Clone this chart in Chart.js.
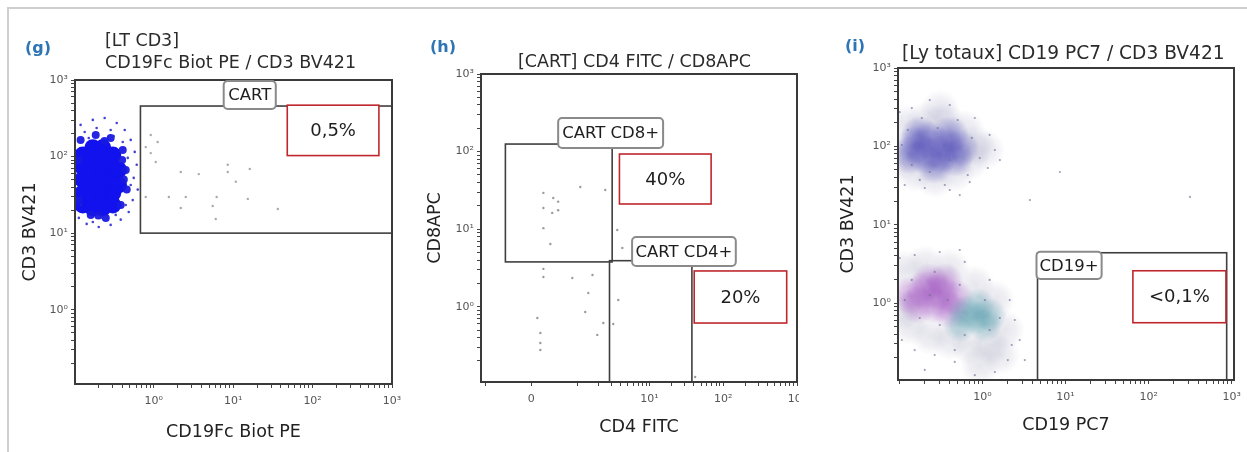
<!DOCTYPE html>
<html><head><meta charset="utf-8">
<script src="https://cdn.jsdelivr.net/npm/chart.js@4.4.1/dist/chart.umd.min.js"></script>
<style>
html,body{margin:0;padding:0;background:#fff;overflow:hidden}
#wrap{width:1247px;height:452px;position:relative;overflow:hidden;font-family:"DejaVu Sans",sans-serif}
.outer{position:absolute;left:7px;top:7px;width:1300px;height:500px;border-left:2px solid #cfcfcf;border-top:2px solid #cfcfcf}
canvas{position:absolute;top:0}
.t{position:absolute;white-space:nowrap;color:#2b2b2b;font-size:17.5px;line-height:20px}
.lt{position:absolute;white-space:nowrap;color:#2e75b6;font-weight:bold;font-size:16px;line-height:20px}
</style></head>
<body>
<div id="wrap">
<div class="outer"></div>
<canvas id="cg" width="415" height="452" style="left:0"></canvas>
<canvas id="ch" width="384" height="452" style="left:415px"></canvas>
<canvas id="ci" width="417" height="452" style="left:830px"></canvas>
<div class="lt" style="left:25px;top:38px">(g)</div>
<div class="t" style="left:105px;top:30px">[LT CD3]</div>
<div class="t" style="left:105px;top:52px">CD19Fc Biot PE / CD3 BV421</div>
<div class="lt" style="left:430px;top:37px">(h)</div>
<div class="t" style="left:518px;top:51px">[CART] CD4 FITC / CD8APC</div>
<div class="lt" style="left:845px;top:36px">(i)</div>
<div class="t" style="left:902px;top:43px;font-size:18.6px">[Ly totaux] CD19 PC7 / CD3 BV421</div>
</div>
<script>
// ---------- tick labels ----------
const decadeTicks = [1, 10, 100, 1000];
const decadeLabels = ['10\u2070', '10\u00b9', '10\u00b2', '10\u00b3'];
const hXMajorTicks = [0, 10, 100, 1000];
const hXMajorLabels = ['0', '10\u00b9', '10\u00b2', '10\u00b3'];

// ---------- axis ranges ----------
const gXRange = [0.102, 1000];
const gYRange = [0.107, 1000];
const hXRange = [-1.15, 1000];
const hYRange = [0.107, 1000];
const iXRange = [0.0962, 1067];
const iYRange = [0.104, 1000];

// ---------- panel (g) events: [CD19Fc Biot PE, CD3 BV421] ----------
const gDenseCore = [
  [0.128,105],[0.128,73.1],[0.128,50],[0.128,33.5],[0.128,23.3],
  [0.171,130],[0.171,90],[0.171,63],[0.171,43.9],[0.171,30.6],[0.171,21.3],
  [0.228,130],[0.228,90],[0.228,63],[0.228,43.9],[0.228,30.6],[0.228,21.3],
  [0.305,105],[0.305,73.1],[0.305,50],[0.305,33.5],[0.305,23.3],
  [0.36,67],[0.36,42.6]];
const gMidEvents = [[0.12,165],[0.186,191],[0.287,175],[0.407,122],[0.444,67],[0.457,37],[0.384,23.3],
  [0.249,15.8],[0.161,17.3],[0.114,27],[0.114,90],[0.24,160],[0.40,90],[0.42,50],[0.20,17]];
const gHaloEvents = [[0.12,259],[0.171,301],[0.241,319],[0.342,275],[0.431,222],[0.513,165],[0.576,115],
  [0.611,78],[0.56,52.6],[0.629,37],[0.544,27],[0.484,18.9],[0.384,15],[0.287,12.8],[0.203,12.0],[0.143,13.2],
  [0.114,15.8],[0.135,209],[0.191,236],[0.287,222],[0.407,155],[0.471,96],[0.513,42.6],[0.444,23.3],
  [0.332,17.3],[0.215,15.8],[0.152,175],[0.313,186],[0.12,23.3],[0.171,14.0]];
const gCartEvents = [[0.917,191],[1.12,155],[1.06,85],[2.19,63],[3.69,59],[8.55,78],[8.55,63],[16.2,69],
  [10.8,47],[1.55,29.7],[2.53,29.7],[2.19,21.3],[6.2,29.7],[5.53,22.6],[15.3,28],[6.04,15.3],[36.5,20.7],
  [0.917,111],[0.793,29.7],[0.793,133]];

// ---------- panel (h) events: [CD4 FITC, CD8APC] ----------
const hEvents = [[0.193,29.3],[0.37,25.2],[0.35,16.2],[0.193,18.7],[0.47,22.6],[0.47,17.5],[1.10,34.9],
  [2.49,32],[0.193,10.3],[0.315,6.44],[3.64,9.75],[4.27,5.72],[0.193,3.07],[0.193,2.42],[0.83,2.35],
  [1.65,2.56],[1.44,1.50],[3.76,1.22],[0.095,0.716],[1.30,0.855],[0.143,0.459],[0.143,0.341],[0.143,0.277],
  [2.34,0.617],[3.21,0.599],[1.93,0.433],[41.6,0.124]];

// ---------- panel (i) events: [CD19 PC7, CD3 BV421] ----------
const iT3Core = [[0.153,104],[0.232,120],[0.352,104],[0.533,95],[0.202,77.5],[0.306,77.5],[0.464,71],
  [0.176,140],[0.404,140],[0.266,57.8],[0.133,77.5]];
const iT3Halo = [[0.116,187],[0.202,204],[0.352,204],[0.612,162],[0.808,104],[0.703,66.9],[0.464,47],
  [0.266,39.4],[0.153,47],[0.11,66.9],[1.07,89.8],[0.306,291]];
const iT3Sparse = [[0.101,274],[0.141,308],[0.404,337],[0.808,230],[1.22,140],[1.41,89.8],[1.16,52.9],
  [0.703,35],[0.404,27.7],[0.202,29.4],[0.116,32.1],[1.62,66.9],[0.232,390],[0.533,23.9],[3.72,20.6],
  [8.54,47],[315,22.6],[0.126,162],[0.186,230],[0.289,171],[0.504,217],[0.743,128],[0.928,71],[0.665,43],
  [0.352,32.1],[0.176,37.2],[0.107,104],[0.141,57.8],[0.404,66.9],[0.232,47]];
const iNegPurple = [[0.133,1.26],[0.202,1.47],[0.306,1.38],[0.464,1.16],[0.166,0.943],[0.266,0.943],
  [0.404,0.814],[0.232,1.85],[0.352,1.85]];
const iNegTeal = [[0.612,0.768],[0.808,0.643],[1.07,0.524],[0.533,0.524],[0.878,0.943],[1.22,0.703]];
const iNegHalo = [[0.116,2.64],[0.202,3.05],[0.404,2.80],[0.808,1.70],[1.41,1.09],[1.86,0.452],[1.22,0.291],
  [0.703,0.291],[0.404,0.337],[0.232,0.390],[0.133,0.524],[0.11,0.814],[1.62,0.217],[0.928,0.162]];
const iNegSparse = [[0.101,3.75],[0.153,4.10],[0.306,4.48],[0.612,3.34],[1.22,1.97],[2.13,1.09],[2.45,0.607],
  [2.81,0.337],[2.02,0.187],[1.41,0.1315],[0.808,0.12],[0.464,0.177],[0.266,0.217],[0.153,0.251],
  [0.107,0.337],[0.202,0.14],[3.23,0.187],[0.533,4.75],[0.141,1.97],[0.266,2.49],[0.533,1.70],[1.07,1.09],
  [1.62,0.643],[1.22,0.452],[0.612,0.39],[0.306,0.524],[0.176,0.643],[0.116,1.09],[0.464,0.251],
  [2.25,0.291],[0.232,1.26],[0.382,1.09]];

// ---------- gates and annotations (data units) ----------
const gGates = [{x:[0.68,1000], y:[10,457]}];
const gTags = [{text:'CART', x:[7.6,34.4], y:[418,970]}];
const gStats = [{text:'0,5%', x:[48,684], y:[103,469]}];
const hGates = [{x:[-0.45,3.1], y:[3.78,125]}, {x:[2.85,37.6], y:[0.107,3.92]}];
const hTags = [{text:'CART CD8+', x:[0.47,15.3], y:[111,271]}, {text:'CART CD4+', x:[5.8,148], y:[3.35,7.9]}];
const hStats = [{text:'40%', x:[3.9,68.5], y:[21.1,93]}, {text:'20%', x:[40.4,725], y:[0.616,2.89]}];
const iGates = [{x:[4.6,871], y:[0.104,4.38]}];
const iTags = [{text:'CD19+', x:[4.47,27.2], y:[2.02,4.52]}];
const iStats = [{text:'<0,1%', x:[64.7,853], y:[0.56,2.58]}];

// ---------- helpers ----------
Chart.defaults.font.family = '"DejaVu Sans", sans-serif';
const biex = v => Math.asinh(v / 0.5) / Math.LN10;
const pts = (arr, tx) => arr.map(p => ({x: tx ? tx(p[0]) : p[0], y: p[1]}));

function softDot(radius, rgb, alpha) {
  const c = document.createElement('canvas');
  c.width = c.height = radius * 2;
  const g = c.getContext('2d');
  const grd = g.createRadialGradient(radius, radius, 0, radius, radius, radius);
  grd.addColorStop(0, `rgba(${rgb},${alpha})`);
  grd.addColorStop(0.5, `rgba(${rgb},${alpha * 0.65})`);
  grd.addColorStop(1, `rgba(${rgb},0)`);
  g.fillStyle = grd; g.fillRect(0, 0, radius * 2, radius * 2);
  return c;
}

function logTicks(min, max) {
  const t = [];
  for (let e = -2; e <= 3; e++) for (let m = 1; m <= 9; m++) {
    const v = m * Math.pow(10, e);
    if (v >= min * 0.999 && v <= max * 1.001) t.push({value: v});
  }
  return t;
}
function biexTicks(min, max) {
  const t = [];
  const vals = [-1, 0];
  for (let e = 0; e <= 2; e++) for (let m = 1; m <= 9; m++) vals.push(m * Math.pow(10, e));
  vals.push(1000);
  vals.forEach(v => { if (v >= min && v <= max) t.push({value: biex(v)}); });
  return t;
}
function labelFor(value, majors, labels, tx) {
  for (let k = 0; k < majors.length; k++) {
    const m = tx ? tx(majors[k]) : majors[k];
    if (Math.abs(m - value) <= 1e-6 * Math.max(1, Math.abs(m))) return labels[k];
  }
  return '';
}

function makeOverlay(cfg) {
  return {
    id: 'overlay',
    afterDatasetsDraw(chart) {
      const {ctx, chartArea: a, scales: {x, y}} = chart;
      const tx = cfg.tx || (v => v);
      const px = v => x.getPixelForValue(tx(v));
      const py = v => y.getPixelForValue(v);
      ctx.save();
      ctx.beginPath(); ctx.rect(a.left, a.top - 30, a.right - a.left + 2, a.bottom - a.top + 31); ctx.clip();
      ctx.strokeStyle = '#3f3f3f'; ctx.lineWidth = 1.6;
      cfg.gates.forEach(g => {
        const x0 = px(g.x[0]), x1 = px(g.x[1]), y0 = py(g.y[1]), y1 = py(g.y[0]);
        ctx.strokeRect(x0, y0, x1 - x0, y1 - y0);
      });
      ctx.restore();
      ctx.save();
      ctx.lineWidth = 2; ctx.strokeStyle = '#3a3a3a';
      ctx.strokeRect(a.left, a.top, a.right - a.left, a.bottom - a.top);
      ctx.textAlign = 'center'; ctx.textBaseline = 'middle';
      cfg.tags.forEach(t => {
        const x0 = px(t.x[0]), x1 = px(t.x[1]), y0 = py(t.y[1]), y1 = py(t.y[0]);
        ctx.beginPath(); ctx.roundRect(x0, y0, x1 - x0, y1 - y0, 4);
        ctx.fillStyle = '#fff'; ctx.fill();
        ctx.strokeStyle = '#8a8a8a'; ctx.lineWidth = 2; ctx.stroke();
        ctx.fillStyle = '#1e1e1e'; ctx.font = '16.5px "DejaVu Sans"';
        ctx.fillText(t.text, (x0 + x1) / 2, (y0 + y1) / 2 + 1);
      });
      cfg.stats.forEach(t => {
        const x0 = px(t.x[0]), x1 = px(t.x[1]), y0 = py(t.y[1]), y1 = py(t.y[0]);
        ctx.fillStyle = '#fff'; ctx.fillRect(x0, y0, x1 - x0, y1 - y0);
        ctx.strokeStyle = '#c0272d'; ctx.lineWidth = 1.6; ctx.strokeRect(x0, y0, x1 - x0, y1 - y0);
        ctx.fillStyle = '#1e1e1e'; ctx.font = '18px "DejaVu Sans"';
        ctx.fillText(t.text, (x0 + x1) / 2, (y0 + y1) / 2 + 1);
      });
      ctx.restore();
    }
  };
}

function ds(data, color, r, style) {
  const d = {data, backgroundColor: color, pointRadius: r, pointBorderWidth: 0, pointHoverRadius: r, clip: 0};
  if (style) d.pointStyle = style;
  return d;
}

function makeChart(id, p) {
  const gridOpts = {display: true, drawOnChartArea: false, drawTicks: true, tickLength: 4, color: '#444', lineWidth: 1};
  const tickFont = {size: 11};
  new Chart(document.getElementById(id), {
    type: 'scatter',
    data: {datasets: p.datasets},
    options: {
      responsive: false, animation: false, events: [],
      layout: {padding: {left: 0, top: p.top, right: p.right, bottom: 0}},
      plugins: {legend: {display: false}, tooltip: {enabled: false}},
      scales: {
        x: {
          type: p.xType, min: p.xMin, max: p.xMax,
          border: {display: true, color: '#3a3a3a', width: 2},
          grid: gridOpts,
          afterBuildTicks: s => { s.ticks = p.xTicks(); },
          afterFit: s => { s.height = p.xH; s.paddingLeft = 0; s.paddingRight = 0; },
          ticks: {autoSkip: false, maxRotation: 0, minRotation: 0, padding: 7, color: '#555', font: tickFont,
                  callback: v => p.xLabel(v)},
          title: {display: true, text: p.xTitle, color: '#222', font: {size: 17.5}, padding: {top: 0, bottom: p.xTitlePad}}
        },
        y: {
          type: 'logarithmic', min: p.yMin, max: p.yMax,
          border: {display: true, color: '#3a3a3a', width: 2},
          grid: gridOpts,
          afterBuildTicks: s => { s.ticks = logTicks(p.yMin, p.yMax); },
          afterFit: s => { s.width = p.yW; s.paddingTop = 0; s.paddingBottom = 0; },
          ticks: {autoSkip: false, padding: 3, color: '#555', font: tickFont,
                  callback: v => labelFor(v, decadeTicks, decadeLabels)},
          title: {display: true, text: p.yTitle, color: '#222', font: {size: 17.5}, padding: {top: p.yTitlePad, bottom: 0}}
        }
      }
    },
    plugins: [makeOverlay(p.overlay)]
  });
}

// (g)
makeChart('cg', {
  top: 80, right: 23, xH: 68, yW: 75,
  xType: 'logarithmic', xMin: gXRange[0], xMax: gXRange[1], yMin: gYRange[0], yMax: gYRange[1],
  xTicks: () => logTicks(gXRange[0], gXRange[1]),
  xLabel: v => labelFor(v, decadeTicks, decadeLabels),
  xTitle: 'CD19Fc Biot PE', yTitle: 'CD3 BV421', xTitlePad: 9.5, yTitlePad: 19.5,
  datasets: [
    ds(pts(gCartEvents), 'rgba(140,140,140,0.75)', 1.2),
    ds(pts(gHaloEvents), 'rgba(35,35,205,0.85)', 1.3),
    ds(pts(gMidEvents), 'rgba(25,25,225,0.95)', 4),
    ds(pts(gDenseCore), 'rgb(18,18,238)', 8.5)
  ],
  overlay: {gates: gGates, tags: gTags, stats: gStats}
});

// (h)
makeChart('ch', {
  top: 74, right: 2, xH: 70, yW: 66,
  xType: 'linear', xMin: biex(hXRange[0]), xMax: biex(hXRange[1]), yMin: hYRange[0], yMax: hYRange[1],
  xTicks: () => biexTicks(hXRange[0], hXRange[1]),
  xLabel: v => labelFor(v, hXMajorTicks, hXMajorLabels, biex),
  xTitle: 'CD4 FITC', yTitle: 'CD8APC', xTitlePad: 14.5, yTitlePad: 9.5,
  datasets: [ds(pts(hEvents, biex), 'rgba(130,130,130,0.8)', 1.2)],
  overlay: {gates: hGates, tags: hTags, stats: hStats, tx: biex}
});

// (i)
makeChart('ci', {
  top: 68, right: 13, xH: 72, yW: 68,
  xType: 'logarithmic', xMin: iXRange[0], xMax: iXRange[1], yMin: iYRange[0], yMax: iYRange[1],
  xTicks: () => logTicks(iXRange[0], iXRange[1]),
  xLabel: v => labelFor(v, decadeTicks, decadeLabels),
  xTitle: 'CD19 PC7', yTitle: 'CD3 BV421', xTitlePad: 16.5, yTitlePad: 7.5,
  datasets: [
    ds(pts(iT3Sparse), 'rgba(110,110,150,0.65)', 1.1),
    ds(pts(iNegSparse), 'rgba(110,110,150,0.65)', 1.1),
    ds(pts(iNegTeal), '#000', 12, softDot(17, '65,140,160', 0.42)),
    ds(pts(iNegPurple), '#000', 12, softDot(19, '150,70,185', 0.45)),
    ds(pts(iT3Core), '#000', 12, softDot(19, '65,60,175', 0.45)),
    ds(pts(iNegHalo), '#000', 12, softDot(20, '150,150,180', 0.24)),
    ds(pts(iT3Halo), '#000', 12, softDot(20, '145,145,185', 0.24))
  ],
  overlay: {gates: iGates, tags: iTags, stats: iStats}
});
</script>
</body></html>
